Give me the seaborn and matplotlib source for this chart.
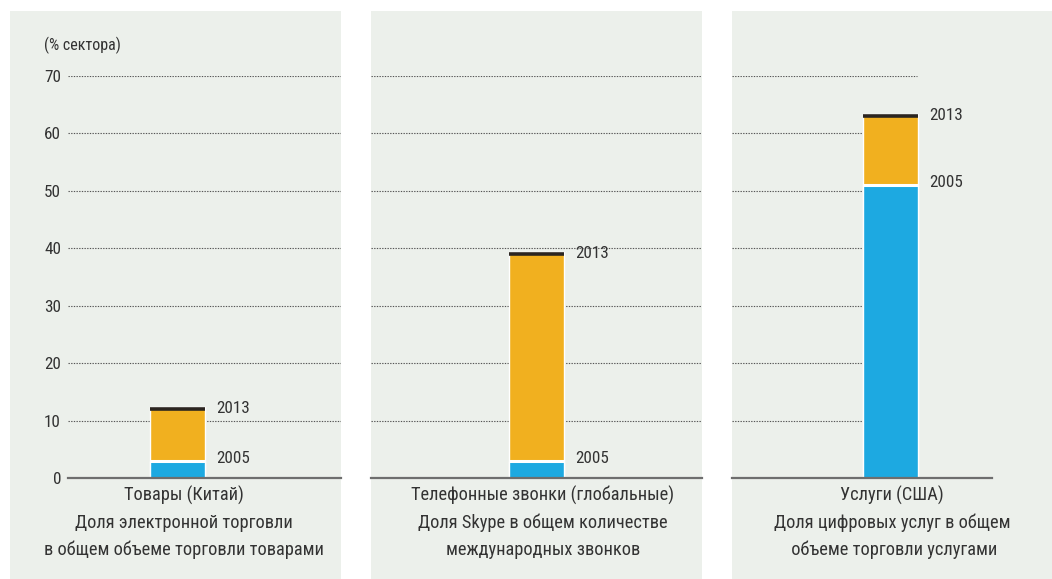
import matplotlib
matplotlib.use("Agg")
import matplotlib.pyplot as plt
from matplotlib import font_manager
from matplotlib.ft2font import FT2Font
from matplotlib.textpath import TextToPath
from matplotlib.patches import Rectangle
import pandas as pd
import seaborn as sns

# данные
categories = ["Товары (Китай)", "Телефонные звонки (глобальные)", "Услуги (США)"]
subtitles = [
    "Доля электронной торговли\nв общем объеме торговли товарами",
    "Доля Skype в общем количестве\nмеждународных звонков",
    "Доля цифровых услуг в общем\n объеме торговли услугами",
]
share_2005 = [3.0, 3.0, 51.0]
share_2013 = [12.3, 39.3, 63.3]
y_ticks = [0, 10, 20, 30, 40, 50, 60, 70]
year_labels = ["2005", "2013"]

# стиль
sns.set_theme(style="white")


def has_cyrillic(path):
    try:
        return FT2Font(path).get_char_index(ord("Д")) != 0
    except Exception:
        return False


# узкий гротеск с кириллицей, ширина строки ближе всего к оригиналу (~270 px при 15 pt)
known = ("Liberation Sans", "Noto Sans", "Open Sans", "Roboto", "DejaVu Sans", "Lato", "Inter")
probe = "в общем объеме торговли товарами"
t2p = TextToPath()
best, best_w = None, None
for f in font_manager.fontManager.ttflist:
    if not f.name.startswith(known) or "CJK" in f.name or "Mono" in f.name:
        continue
    if f.style != "normal" or f.weight not in (400, "normal", "regular"):
        continue
    if not has_cyrillic(f.fname):
        continue
    prop = font_manager.FontProperties(fname=f.fname, size=15)
    w = t2p.get_text_width_height_descent(probe, prop, ismath=False)[0] * 100 / 72
    if best is None or abs(w - 270) < abs(best_w - 270):
        best, best_w = f, w

plt.rcParams["font.family"] = [best.name, "DejaVu Sans"]
plt.rcParams["font.stretch"] = best.stretch
plt.rcParams["font.weight"] = best.weight
k = max(0.84, min(1.0, 270 / best_w))  # поправка размера под ширину

W, H = 1052, 579
BG = "#ECF0EB"
ORANGE = "#F1B01F"
BLUE = "#1DA9E1"
TEXT = "#333333"

fig = plt.figure(figsize=(W / 100, H / 100), dpi=100)
fig.patch.set_facecolor("white")

# фоновые панели (в пикселях)
panels = [(10, 341), (371, 702), (732, 1052)]
for x0, x1 in panels:
    fig.patches.append(Rectangle((x0 / W, 0), (x1 - x0) / W, 1 - 11 / H,
                                 transform=fig.transFigure, facecolor=BG,
                                 edgecolor="none", zorder=-5))

# области осей: (лево, право, центр столбца, конец сетки)
axes_px = [(68, 341, 177.5, 341), (371, 702, 536.5, 702), (732, 992, 890.5, 917)]
y0_px, y70_px = 478, 76
bar_px = 55
u = 0.8 / bar_px

for i, (left, right, cx, grid_end) in enumerate(axes_px):
    ax = fig.add_axes([left / W, 1 - y0_px / H, (right - left) / W, (y0_px - y70_px) / H])
    ax.set_facecolor("none")
    df = pd.DataFrame({"cat": [categories[i]], "v2005": [share_2005[i]], "v2013": [share_2013[i]]})

    # сетка
    frac = (grid_end - left) / (right - left)
    for t in y_ticks[1:]:
        ax.axhline(t, xmin=0, xmax=frac, color="#555555", lw=0.8,
                   linestyle=(0, (1.2, 1.2)), zorder=1)

    sns.barplot(data=df, x="cat", y="v2013", color=ORANGE, width=0.8,
                saturation=1, ax=ax, zorder=2)
    sns.barplot(data=df, x="cat", y="v2005", color=BLUE, width=0.8,
                saturation=1, ax=ax, zorder=3)

    # белая граница и тёмная кромка сверху
    ax.hlines(share_2005[i], -0.4, 0.4, color="white", lw=2.2, zorder=4)
    ax.hlines(share_2013[i] - 0.25, -0.4, 0.4, color="#2B2520", lw=2.6, zorder=4)

    ax.text(0.4 + 11 * u, share_2013[i] - 0.2, year_labels[1], fontsize=14.5 * k,
            color=TEXT, va="center", ha="left", clip_on=False)
    ax.text(0.4 + 11 * u, share_2005[i] + 0.4, year_labels[0], fontsize=14.5 * k,
            color=TEXT, va="center", ha="left", clip_on=False)

    ax.set_xlim(-(cx - left) * u, (right - cx) * u)
    ax.set_ylim(0, 70)
    ax.set_yticks(y_ticks)
    ax.set_xticks([])
    ax.set_xlabel("")
    ax.set_ylabel("")
    for s in ["top", "right", "left"]:
        ax.spines[s].set_visible(False)
    ax.spines["bottom"].set_color("#6E6E6E")
    ax.spines["bottom"].set_linewidth(1.6)
    ax.spines["bottom"].set_zorder(5)
    if i == 0:
        ax.tick_params(axis="y", length=0, pad=5, labelsize=14.5 * k, labelcolor=TEXT)
    else:
        ax.set_yticklabels([])
        ax.tick_params(axis="y", length=0)

# подписи категорий
label_cx = [184, 543, 892]
for i, cx in enumerate(label_cx):
    fig.text(cx / W, 1 - 486 / H, categories[i] + "\n" + subtitles[i],
             ha="center", va="top", fontsize=15.5 * k, color=TEXT,
             linespacing=1.36 / k, multialignment="center")

fig.text(44 / W, 1 - 45 / H, "(% сектора)", ha="left", va="center",
         fontsize=13.5 * k, color=TEXT)

fig.savefig("out.png", dpi=100, facecolor="white")
